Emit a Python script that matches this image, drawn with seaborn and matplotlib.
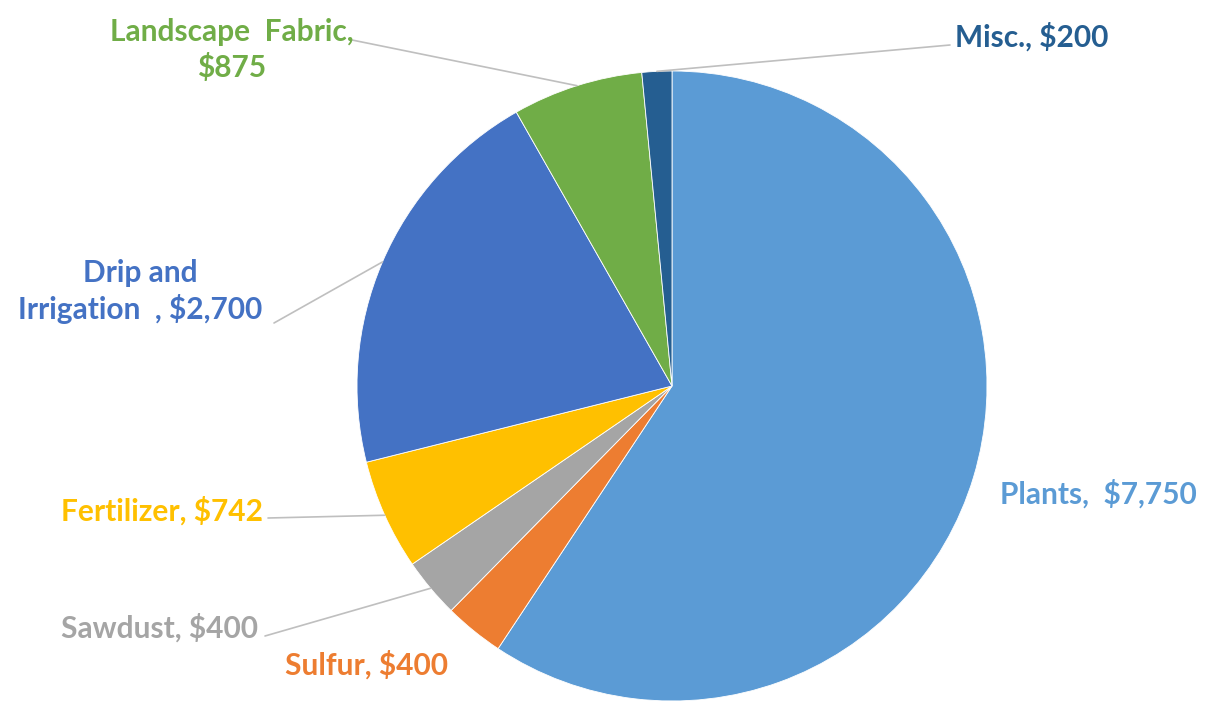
import numpy as np
import matplotlib
matplotlib.use("Agg")
import matplotlib.pyplot as plt
import seaborn as sns

categories = ["Plants", "Sulfur", "Sawdust", "Fertilizer", "Drip and\nIrrigation", "Landscape Fabric,", "Misc."]
values = [7750, 400, 400, 742, 2700, 875, 200]
value_labels = ["$7,750", "$400", "$400", "$742", "$2,700", "$875", "$200"]
label_texts = ["Plants,  $7,750", "Sulfur, $400", "Sawdust, $400", "Fertilizer, $742",
               "Drip and\nIrrigation  , $2,700", "Landscape  Fabric,\n$875", "Misc., $200"]
colors = ["#5B9BD5", "#ED7D31", "#A5A5A5", "#FFC000", "#4472C4", "#70AD47", "#255E91"]

sns.set_style("white")
plt.rcParams["font.family"] = ["Lato", "DejaVu Sans"]

W, H = 1205, 705
fig = plt.figure(figsize=(W / 100, H / 100), dpi=100)
cx, cy, r = 672, 386, 315
ax = fig.add_axes([(cx - r) / W, (H - cy - r) / H, 2 * r / W, 2 * r / H])
wedges, _ = ax.pie(values, colors=colors, startangle=90, counterclock=False,
                   wedgeprops=dict(edgecolor="white", linewidth=0.6))
ax.set_xlim(-1, 1)
ax.set_ylim(-1, 1)
ax.set_aspect("equal")
ax.axis("off")

# label layout: (x_px, y_px_from_top, ha, line_start or None)
layout = [
    (1000, 494, "left", None),
    (285, 665, "left", None),
    (258, 628, "right", (265, 636)),
    (263, 511, "right", (268, 518)),
    (140, 291, "center", (274, 323)),
    (232, 50, "center", (352, 40)),
    (955, 37, "left", (950, 45)),
]

for w, txt, col, (x, y, ha, ls) in zip(wedges, label_texts, colors, layout):
    fig.text(x / W, (H - y) / H, txt, ha=ha, va="center", color=col,
             fontsize=21.5, fontweight="bold", linespacing=1.28)
    if ls is not None:
        mid = np.deg2rad((w.theta1 + w.theta2) / 2)
        ax.annotate("", xy=(np.cos(mid), np.sin(mid)), xycoords="data",
                    xytext=(ls[0], H - ls[1]), textcoords="figure pixels",
                    arrowprops=dict(arrowstyle="-", color="#BFBFBF", lw=1.2,
                                    shrinkA=0, shrinkB=0))

fig.savefig("out.png", dpi=100)
